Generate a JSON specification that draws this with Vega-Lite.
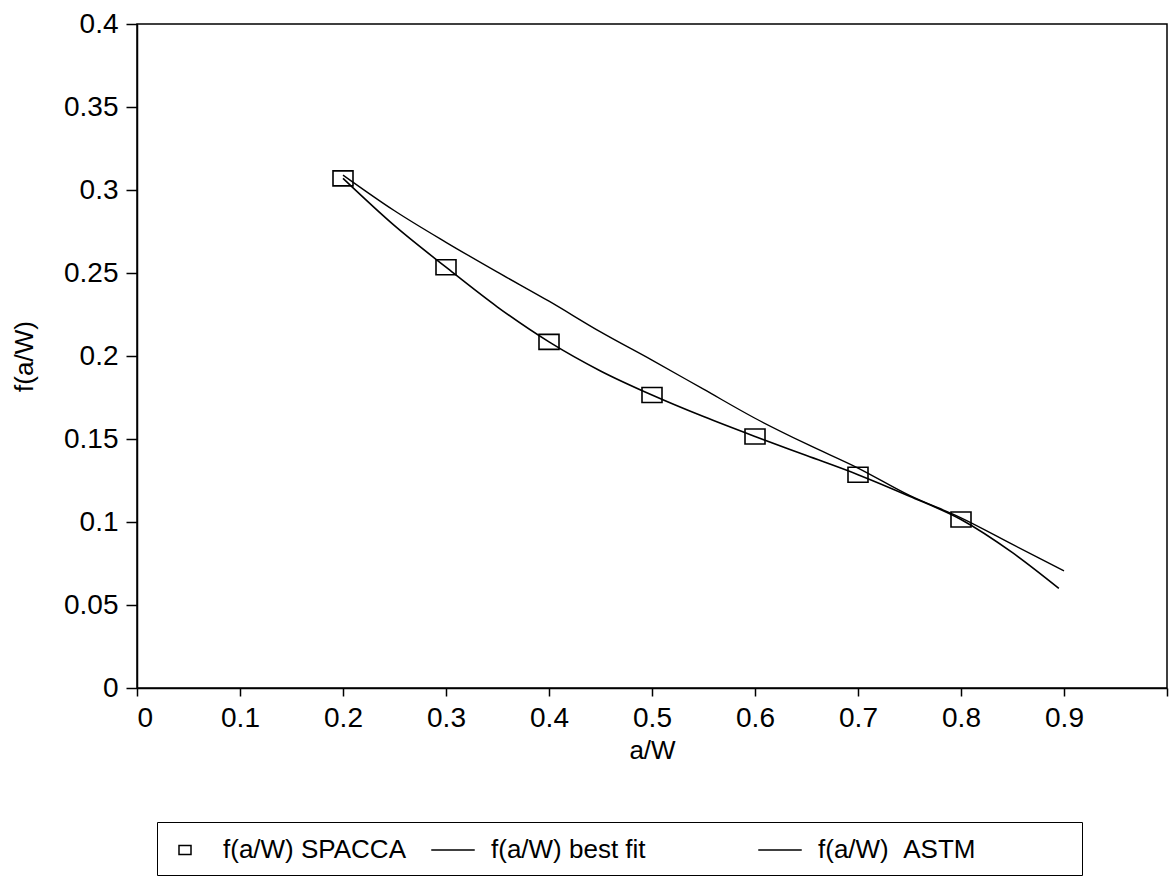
{
  "$schema": "https://vega.github.io/schema/vega-lite/v6.json",
  "width": 1030,
  "height": 664,
  "autosize": {"type": "none"},
  "padding": {"left": 137, "top": 24, "right": 2, "bottom": 198},
  "background": "white",
  "config": {
    "font": "Liberation Sans",
    "view": {"stroke": "black", "strokeWidth": 1.5},
    "axis": {
      "grid": false,
      "domainColor": "black",
      "domainWidth": 1.5,
      "tickColor": "black",
      "tickWidth": 1.5,
      "labelColor": "black",
      "titleColor": "black",
      "labelFontSize": 28,
      "titleFontSize": 26,
      "titleFontWeight": "normal",
      "labelFont": "Liberation Sans",
      "titleFont": "Liberation Sans"
    }
  },
  "datasets": {
    "points": [
      {"a": 0.2, "f": 0.307, "series": "f(a/W) SPACCA"},
      {"a": 0.3, "f": 0.2535, "series": "f(a/W) SPACCA"},
      {"a": 0.4, "f": 0.2085, "series": "f(a/W) SPACCA"},
      {"a": 0.5, "f": 0.1765, "series": "f(a/W) SPACCA"},
      {"a": 0.6, "f": 0.1515, "series": "f(a/W) SPACCA"},
      {"a": 0.7, "f": 0.1285, "series": "f(a/W) SPACCA"},
      {"a": 0.8, "f": 0.1015, "series": "f(a/W) SPACCA"}
    ],
    "fit": [
      {"a": 0.2, "f": 0.307, "series": "f(a/W) best fit"},
      {"a": 0.25, "f": 0.2785, "series": "f(a/W) best fit"},
      {"a": 0.3, "f": 0.2535, "series": "f(a/W) best fit"},
      {"a": 0.35, "f": 0.2295, "series": "f(a/W) best fit"},
      {"a": 0.4, "f": 0.2085, "series": "f(a/W) best fit"},
      {"a": 0.45, "f": 0.191, "series": "f(a/W) best fit"},
      {"a": 0.5, "f": 0.1765, "series": "f(a/W) best fit"},
      {"a": 0.55, "f": 0.1635, "series": "f(a/W) best fit"},
      {"a": 0.6, "f": 0.1515, "series": "f(a/W) best fit"},
      {"a": 0.65, "f": 0.14, "series": "f(a/W) best fit"},
      {"a": 0.7, "f": 0.1285, "series": "f(a/W) best fit"},
      {"a": 0.75, "f": 0.1155, "series": "f(a/W) best fit"},
      {"a": 0.8, "f": 0.1015, "series": "f(a/W) best fit"},
      {"a": 0.85, "f": 0.0815, "series": "f(a/W) best fit"},
      {"a": 0.895, "f": 0.06, "series": "f(a/W) best fit"}
    ],
    "astm": [
      {"a": 0.2, "f": 0.309, "series": "f(a/W) ASTM"},
      {"a": 0.25, "f": 0.2875, "series": "f(a/W) ASTM"},
      {"a": 0.3, "f": 0.2685, "series": "f(a/W) ASTM"},
      {"a": 0.35, "f": 0.2505, "series": "f(a/W) ASTM"},
      {"a": 0.4, "f": 0.233, "series": "f(a/W) ASTM"},
      {"a": 0.45, "f": 0.2145, "series": "f(a/W) ASTM"},
      {"a": 0.5, "f": 0.1975, "series": "f(a/W) ASTM"},
      {"a": 0.55, "f": 0.18, "series": "f(a/W) ASTM"},
      {"a": 0.6, "f": 0.1625, "series": "f(a/W) ASTM"},
      {"a": 0.65, "f": 0.147, "series": "f(a/W) ASTM"},
      {"a": 0.7, "f": 0.1325, "series": "f(a/W) ASTM"},
      {"a": 0.75, "f": 0.116, "series": "f(a/W) ASTM"},
      {"a": 0.8, "f": 0.1025, "series": "f(a/W) ASTM"},
      {"a": 0.85, "f": 0.0865, "series": "f(a/W) ASTM"},
      {"a": 0.9, "f": 0.0705, "series": "f(a/W) ASTM"}
    ]
  },
  "encoding": {
    "x": {
      "field": "a",
      "type": "quantitative",
      "scale": {"domain": [0, 1], "nice": false, "zero": false},
      "axis": {
        "title": "a/W",
        "values": [0, 0.1, 0.2, 0.3, 0.4, 0.5, 0.6, 0.7, 0.8, 0.9, 1],
        "format": "~g",
        "labelExpr": "datum.value >= 1 ? '' : datum.label",
        "tickSize": 8,
        "labelPadding": 8,
        "titlePadding": 5
      }
    },
    "y": {
      "field": "f",
      "type": "quantitative",
      "scale": {"domain": [0, 0.4], "nice": false},
      "axis": {
        "title": "f(a/W)",
        "values": [0, 0.05, 0.1, 0.15, 0.2, 0.25, 0.3, 0.35, 0.4],
        "format": "~g",
        "tickSize": 11,
        "labelPadding": 8,
        "titlePadding": 26
      }
    },
    "color": {
      "field": "series",
      "type": "nominal",
      "scale": {
        "domain": ["f(a/W) SPACCA", "f(a/W) best fit", "f(a/W) ASTM"],
        "range": ["black", "black", "black"]
      },
      "legend": {
        "title": null,
        "orient": "none",
        "legendX": 20,
        "legendY": 798,
        "direction": "horizontal",
        "columns": 3,
        "columnPadding": 22,
        "padding": 12,
        "strokeColor": "black",
        "symbolSize": 900,
        "symbolStrokeWidth": 1.5,
        "labelFontSize": 26,
        "labelFont": "Liberation Sans",
        "labelColor": "black",
        "labelOffset": 22,
        "labelLimit": 0,
        "labelExpr": "datum.label == 'f(a/W) best fit' ? 'f(a/W) best fit\u00a0\u00a0\u00a0\u00a0\u00a0\u00a0\u00a0\u00a0\u00a0\u00a0\u00a0\u00a0\u200b' : datum.label == 'f(a/W) ASTM' ? 'f(a/W)\u00a0\u00a0ASTM\u00a0\u00a0\u00a0\u00a0\u00a0\u00a0\u00a0\u00a0\u00a0\u00a0\u00a0\u00a0\u00a0\u200b' : datum.label"
      }
    }
  },
  "layer": [
    {
      "data": {"name": "fit"},
      "mark": {"type": "line", "interpolate": "monotone", "strokeWidth": 1.6}
    },
    {
      "data": {"name": "astm"},
      "mark": {"type": "line", "interpolate": "monotone", "strokeWidth": 1.4}
    },
    {
      "data": {"name": "points"},
      "mark": {"type": "point", "filled": false, "size": 2500, "strokeWidth": 1.6, "opacity": 1},
      "encoding": {
        "shape": {
          "field": "series",
          "type": "nominal",
          "scale": {
            "domain": ["f(a/W) SPACCA", "f(a/W) best fit", "f(a/W) ASTM"],
            "range": ["M-0.4,-0.3H0.4V0.3H-0.4Z", "M-1.45,0H1.45", "M-1.45,0H1.45"]
          }
        }
      }
    }
  ]
}
